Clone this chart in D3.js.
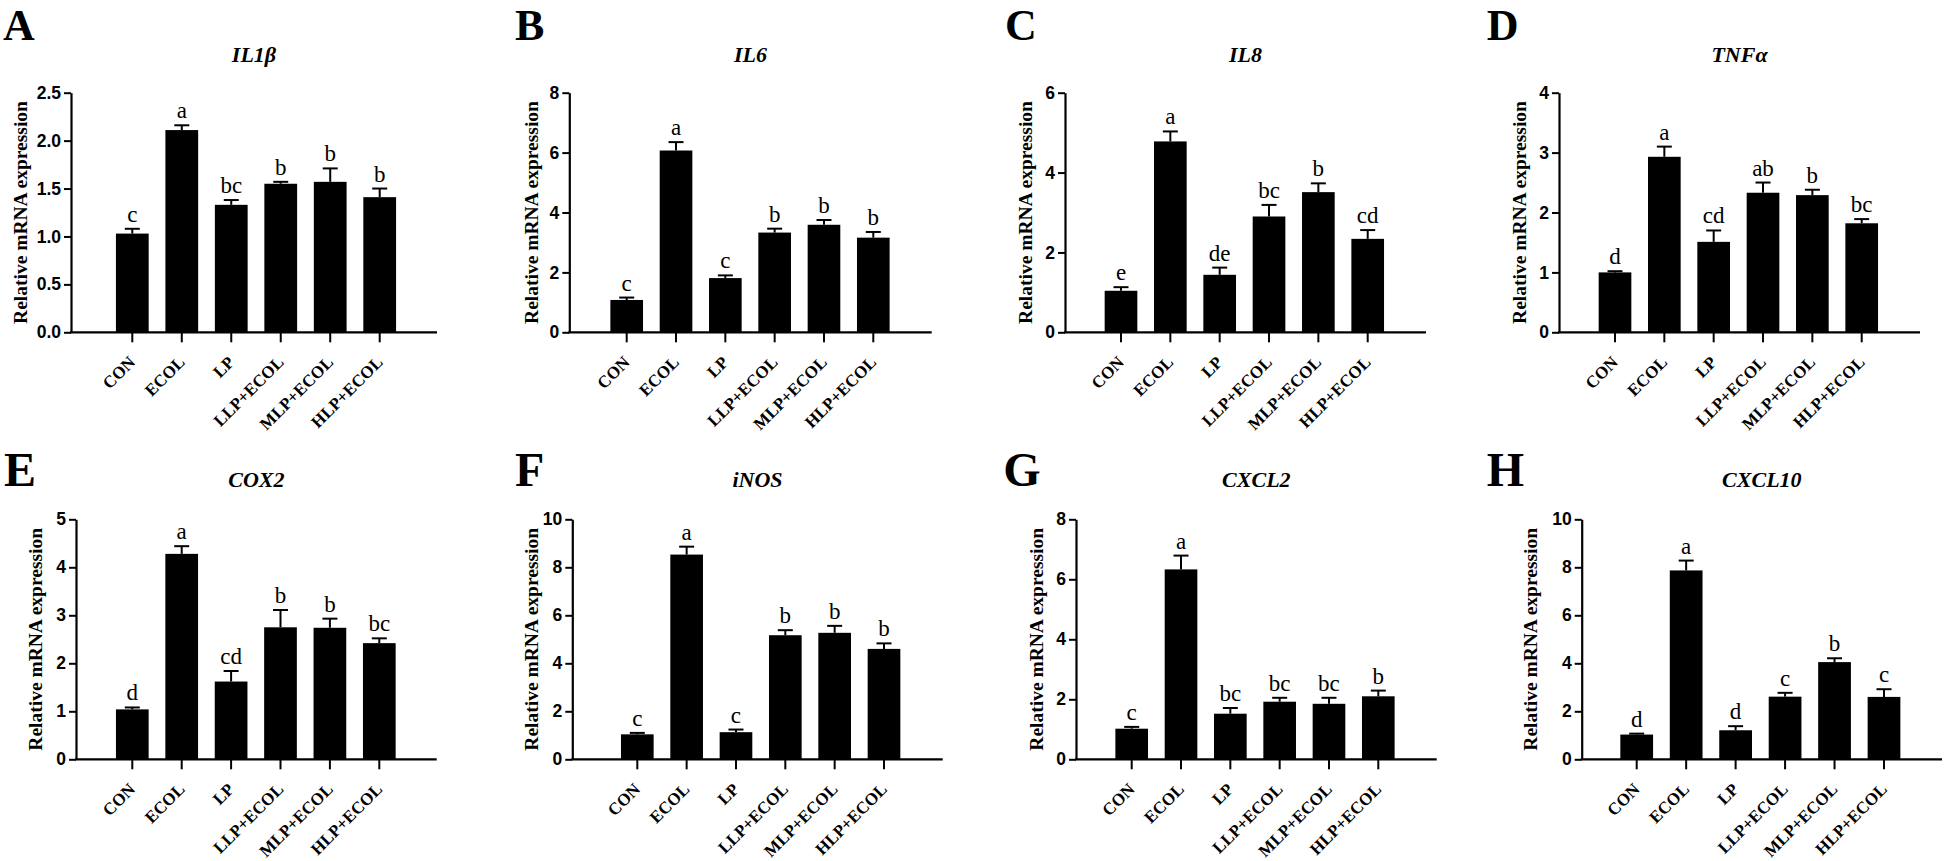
<!DOCTYPE html>
<html>
<head>
<meta charset="utf-8">
<script src="https://cdn.jsdelivr.net/npm/d3@7"></script>
<style>
  html, body { margin: 0; padding: 0; background: #fff; }
  svg { display: block; }
</style>
</head>
<body>
<svg id="chart" width="1944" height="861"></svg>
<script>
// ---------------- DATA ----------------
const groups = ["CON", "ECOL", "LP", "LLP+ECOL", "MLP+ECOL", "HLP+ECOL"];
const panelLetters = ["A", "B", "C", "D", "E", "F", "G", "H"];
const genes = ["IL1β", "IL6", "IL8", "TNFα", "COX2", "iNOS", "CXCL2", "CXCL10"];
const yMax = [2.5, 8, 6, 4, 5, 10, 8, 10];
const yStep = [0.5, 2, 2, 1, 1, 2, 2, 2];
const yLabel = "Relative mRNA expression";

const il1bMean = [1.03, 2.11, 1.33, 1.55, 1.57, 1.41];
const il1bSem  = [0.05, 0.05, 0.05, 0.02, 0.14, 0.09];
const il1bSig  = ["c", "a", "bc", "b", "b", "b"];

const il6Mean = [1.08, 6.07, 1.81, 3.33, 3.59, 3.16];
const il6Sem  = [0.08, 0.28, 0.09, 0.13, 0.16, 0.19];
const il6Sig  = ["c", "a", "c", "b", "b", "b"];

const il8Mean = [1.04, 4.78, 1.44, 2.90, 3.51, 2.34];
const il8Sem  = [0.09, 0.25, 0.18, 0.29, 0.22, 0.22];
const il8Sig  = ["e", "a", "de", "bc", "b", "cd"];

const tnfMean = [1.00, 2.93, 1.51, 2.33, 2.29, 1.82];
const tnfSem  = [0.02, 0.17, 0.19, 0.17, 0.09, 0.07];
const tnfSig  = ["d", "a", "cd", "ab", "b", "bc"];

const cox2Mean = [1.04, 4.28, 1.62, 2.75, 2.74, 2.42];
const cox2Sem  = [0.04, 0.16, 0.22, 0.36, 0.19, 0.10];
const cox2Sig  = ["d", "a", "cd", "b", "b", "bc"];

const inosMean = [1.04, 8.53, 1.13, 5.17, 5.27, 4.60];
const inosSem  = [0.06, 0.33, 0.11, 0.21, 0.29, 0.23];
const inosSig  = ["c", "a", "c", "b", "b", "b"];

const cxcl2Mean = [1.02, 6.33, 1.52, 1.92, 1.85, 2.10];
const cxcl2Sem  = [0.06, 0.46, 0.19, 0.13, 0.20, 0.19];
const cxcl2Sig  = ["c", "a", "bc", "bc", "bc", "b"];

const cxcl10Mean = [1.03, 7.87, 1.21, 2.61, 4.05, 2.60];
const cxcl10Sem  = [0.04, 0.41, 0.17, 0.16, 0.16, 0.32];
const cxcl10Sig  = ["d", "a", "d", "c", "b", "c"];

const means = [il1bMean, il6Mean, il8Mean, tnfMean, cox2Mean, inosMean, cxcl2Mean, cxcl10Mean];
const sems  = [il1bSem, il6Sem, il8Sem, tnfSem, cox2Sem, inosSem, cxcl2Sem, cxcl10Sem];
const sigs  = [il1bSig, il6Sig, il8Sig, tnfSig, cox2Sig, inosSig, cxcl2Sig, cxcl10Sig];

// ---------------- LAYOUT ----------------
const rows = [
  { top: 92.7, zero: 332.3, titleY: 61.5, letterY: 39.5, letterSize: 44 },
  { top: 519.3, zero: 759.3, titleY: 487, letterY: 485.5, letterSize: 48 }
];
const layout = [
  { row: 0, axisX: 71,     c0: 132.3,  c5: 379.7,  end: 437,    letterX: 3,      ylabX: 26.5 },
  { row: 0, axisX: 569.3,  c0: 626.7,  c5: 873.3,  end: 931.7,  letterX: 515,    ylabX: 537.5 },
  { row: 0, axisX: 1065,   c0: 1121,   c5: 1367.7, end: 1426,   letterX: 1005,   ylabX: 1031.5 },
  { row: 0, axisX: 1559,   c0: 1615,   c5: 1861.7, end: 1920,   letterX: 1486.7, ylabX: 1526 },
  { row: 1, axisX: 76,     c0: 132.3,  c5: 379.3,  end: 436.7,  letterX: 4,      ylabX: 42.3 },
  { row: 1, axisX: 572.3,  c0: 637.3,  c5: 884,    end: 942.7,  letterX: 515,    ylabX: 537.5 },
  { row: 1, axisX: 1076,   c0: 1131.7, c5: 1378.3, end: 1436.7, letterX: 1003.3, ylabX: 1042.5 },
  { row: 1, axisX: 1581.7, c0: 1636.7, c5: 1884,   end: 1942,   letterX: 1486.7, ylabX: 1536.5 }
];

const serif = "'Liberation Serif', 'Times New Roman', serif";
const sans = "'Liberation Sans', Arial, sans-serif";

const svg = d3.select("#chart");

genes.forEach((gene, i) => {
  const L = layout[i];
  const R = rows[L.row];
  const step = (L.c5 - L.c0) / (groups.length - 1);
  const x = d3.scaleBand()
    .domain(groups)
    .range([L.c0 - step / 2, L.c5 + step / 2])
    .paddingInner(0.338)
    .paddingOuter(0.169);
  const y = d3.scaleLinear().domain([0, yMax[i]]).range([R.zero, R.top]);

  const g = svg.append("g");

  // panel letter
  g.append("text")
    .attr("x", L.letterX).attr("y", R.letterY)
    .attr("font-family", serif).attr("font-weight", "bold")
    .attr("font-size", R.letterSize).attr("fill", "#000")
    .text(panelLetters[i]);

  // title
  g.append("text")
    .attr("x", (L.axisX + L.end) / 2).attr("y", R.titleY)
    .attr("text-anchor", "middle")
    .attr("font-family", serif).attr("font-weight", "bold").attr("font-style", "italic")
    .attr("font-size", 22).attr("fill", "#000")
    .text(gene);

  // bars
  const data = groups.map((grp, k) => ({ grp, m: means[i][k], s: sems[i][k], sig: sigs[i][k] }));
  g.selectAll("rect.bar").data(data).enter().append("rect")
    .attr("class", "bar")
    .attr("x", d => x(d.grp))
    .attr("width", x.bandwidth())
    .attr("y", d => y(d.m))
    .attr("height", d => y(0) - y(d.m))
    .attr("fill", "#000");

  // error bars (upper only)
  const capW = 15;
  g.selectAll("line.stem").data(data).enter().append("line")
    .attr("x1", d => x(d.grp) + x.bandwidth() / 2)
    .attr("x2", d => x(d.grp) + x.bandwidth() / 2)
    .attr("y1", d => y(d.m))
    .attr("y2", d => y(d.m + d.s))
    .attr("stroke", "#000").attr("stroke-width", 2);
  g.selectAll("line.cap").data(data).enter().append("line")
    .attr("x1", d => x(d.grp) + x.bandwidth() / 2 - capW / 2)
    .attr("x2", d => x(d.grp) + x.bandwidth() / 2 + capW / 2)
    .attr("y1", d => y(d.m + d.s))
    .attr("y2", d => y(d.m + d.s))
    .attr("stroke", "#000").attr("stroke-width", 2);

  // significance letters
  g.selectAll("text.sig").data(data).enter().append("text")
    .attr("x", d => x(d.grp) + x.bandwidth() / 2)
    .attr("y", d => y(d.m + d.s) - 7)
    .attr("text-anchor", "middle")
    .attr("font-family", serif).attr("font-size", 23).attr("fill", "#000")
    .text(d => d.sig);

  // y axis
  const ticks = d3.range(0, yMax[i] + yStep[i] / 2, yStep[i]);
  const fmt = yStep[i] < 1 ? d3.format(".1f") : d3.format("d");
  const yAxis = d3.axisLeft(y).tickValues(ticks).tickFormat(fmt).tickSize(7).tickPadding(3).tickSizeOuter(0);
  const ya = g.append("g").attr("transform", `translate(${L.axisX},0)`).call(yAxis);
  ya.select(".domain").attr("stroke", "#000").attr("stroke-width", 2.2);
  ya.selectAll(".tick line").attr("stroke", "#000").attr("stroke-width", 2);
  ya.selectAll(".tick text")
    .attr("font-family", sans).attr("font-weight", "bold").attr("font-size", 17.5).attr("fill", "#000");

  // x axis
  const xAxis = d3.axisBottom(x).tickSize(10).tickSizeOuter(0).tickFormat("");
  const xa = g.append("g").attr("transform", `translate(0,${R.zero})`).call(xAxis);
  xa.select(".domain").remove();
  xa.selectAll(".tick line").attr("stroke", "#000").attr("stroke-width", 2);
  g.append("line")
    .attr("x1", L.axisX - 1).attr("x2", L.end)
    .attr("y1", R.zero).attr("y2", R.zero)
    .attr("stroke", "#000").attr("stroke-width", 2.2);

  // x labels rotated
  g.selectAll("text.xl").data(groups).enter().append("text")
    .attr("transform", d => `translate(${x(d) + x.bandwidth() / 2 + 4},${R.zero + 31}) rotate(-45)`)
    .attr("text-anchor", "end")
    .attr("font-family", serif).attr("font-weight", "bold").attr("font-size", 17).attr("fill", "#000")
    .text(d => d);

  // y label
  g.append("text")
    .attr("transform", `translate(${L.ylabX},${(R.top + R.zero) / 2}) rotate(-90)`)
    .attr("text-anchor", "middle")
    .attr("font-family", serif).attr("font-weight", "bold").attr("font-size", 19.5).attr("fill", "#000")
    .text(yLabel);
});
</script>
</body>
</html>
